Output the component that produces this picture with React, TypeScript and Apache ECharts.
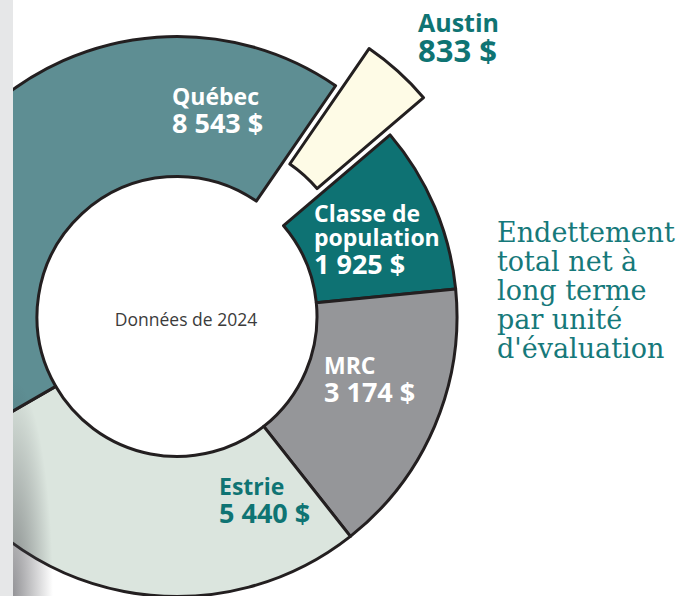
import React, { useEffect, useRef } from 'react';
import * as echarts from 'echarts';

// ---- data ----
const categories = ['Austin', 'Classe de population', 'MRC', 'Estrie', 'Québec'];
const labelNames = ['Austin', 'Classe de\npopulation', 'MRC', 'Estrie', 'Québec'];
const values = [833, 1925, 3174, 5440, 8543];
const note = 'Données de 2024';
const titleLines = ['Endettement', 'total net à', 'long terme', 'par unité', "d'évaluation"];

// ---- styles / layout ----
const sliceColors = ['#fefbe6', '#0e7273', '#959699', '#dbe5de', '#5e8e93'];
const labelColors = ['#0f7473', '#ffffff', '#ffffff', '#0f7473', '#ffffff'];
const labelPos = [
  [418, 9],
  [314, 201],
  [324, 353],
  [219, 474],
  [172, 84],
];
const explodedIndex = 0;

const fmt = (v: number) => v.toString().replace(/\B(?=(\d{3})+(?!\d))/g, ' ') + ' $';
const labelText = (i: number) =>
  labelNames[i]
    .split('\n')
    .map((s) => `{n|${s}}`)
    .join('\n') + `\n{v|${fmt(values[i])}}`;

export default function App() {
  const ref = useRef<HTMLDivElement>(null);

  useEffect(() => {
    if (!ref.current) return;
    const chart = echarts.init(ref.current, undefined, { renderer: 'svg' });
    const border = '#231f20';
    const richMain = {
      n: { fontFamily: 'Open Sans', fontWeight: 'bold', fontSize: 23, lineHeight: 24 },
      v: { fontFamily: 'Open Sans', fontWeight: 'bold', fontSize: 27, lineHeight: 29 },
    };
    const richBig = {
      n: { fontFamily: 'Open Sans', fontWeight: 'bold', fontSize: 25, lineHeight: 26, fill: labelColors[explodedIndex] },
      v: { fontFamily: 'Open Sans', fontWeight: 'bold', fontSize: 31, lineHeight: 30, fill: labelColors[explodedIndex] },
    };
    const option: any = {
      animation: false,
      backgroundColor: '#ffffff',
      series: [
        {
          type: 'pie',
          center: [177, 316.5],
          radius: [140, 280],
          startAngle: 55.5,
          clockwise: true,
          avoidLabelOverlap: false,
          selectedMode: 'single',
          selectedOffset: 50,
          emphasis: { disabled: true },
          labelLine: { show: false },
          itemStyle: { borderColor: border, borderWidth: 3 },
          label: {
            show: true,
            position: 'inside',
            fontFamily: 'Open Sans',
            fontWeight: 'bold',
            formatter: (p: any) => labelText(p.dataIndex),
            rich: richMain,
          },
          labelLayout: (p: any) => ({
            x: labelPos[p.dataIndex][0],
            y: labelPos[p.dataIndex][1],
            align: 'left',
            verticalAlign: 'top',
          }),
          data: values.map((v, i) => ({
            name: categories[i],
            value: v,
            selected: i === explodedIndex,
            itemStyle: { color: sliceColors[i], borderColor: border, borderWidth: 3 },
            select: {
              itemStyle: { color: sliceColors[i], borderColor: border, borderWidth: 3 },
              label: { show: false },
            },
            label: i === explodedIndex ? { show: false } : { color: labelColors[i] },
          })),
        },
      ],
      graphic: [
        {
          type: 'text',
          x: labelPos[explodedIndex][0],
          y: labelPos[explodedIndex][1],
          z: 10,
          style: {
            text: labelText(explodedIndex),
            rich: richBig,
            fill: labelColors[explodedIndex],
            align: 'left',
            verticalAlign: 'top',
          },
        },
        {
          type: 'text',
          x: 186,
          y: 319,
          z: 10,
          style: {
            text: note,
            fontFamily: 'Open Sans',
            fontSize: 17.5,
            fill: '#3b3b3b',
            align: 'center',
            verticalAlign: 'middle',
          },
        },
        {
          type: 'text',
          x: 497,
          y: 218,
          z: 10,
          style: {
            text: titleLines.join('\n'),
            fontFamily: 'DejaVu Serif',
            fontSize: 27,
            lineHeight: 29,
            fill: '#16797a',
            align: 'left',
            verticalAlign: 'top',
          },
        },
        {
          type: 'rect',
          x: 13,
          y: 380,
          z: 50,
          scaleX: 40 / 216,
          shape: { x: 0, y: 0, width: 216, height: 216 },
          style: {
            fill: {
              type: 'radial',
              x: 0,
              y: 1,
              r: 1,
              colorStops: [
                { offset: 0, color: 'rgba(60,60,66,0.55)' },
                { offset: 1, color: 'rgba(60,60,66,0)' },
              ],
            },
          },
        },
        {
          type: 'rect',
          z: 60,
          shape: { x: 0, y: 0, width: 13, height: 596 },
          style: { fill: '#e6e7e8' },
        },
      ],
    };
    chart.setOption(option);
    return () => chart.dispose();
  }, []);

  return (
    <div
      ref={ref}
      style={{ position: 'fixed', left: 0, top: 0, width: 694, height: 596, background: '#fff' }}
    />
  );
}
